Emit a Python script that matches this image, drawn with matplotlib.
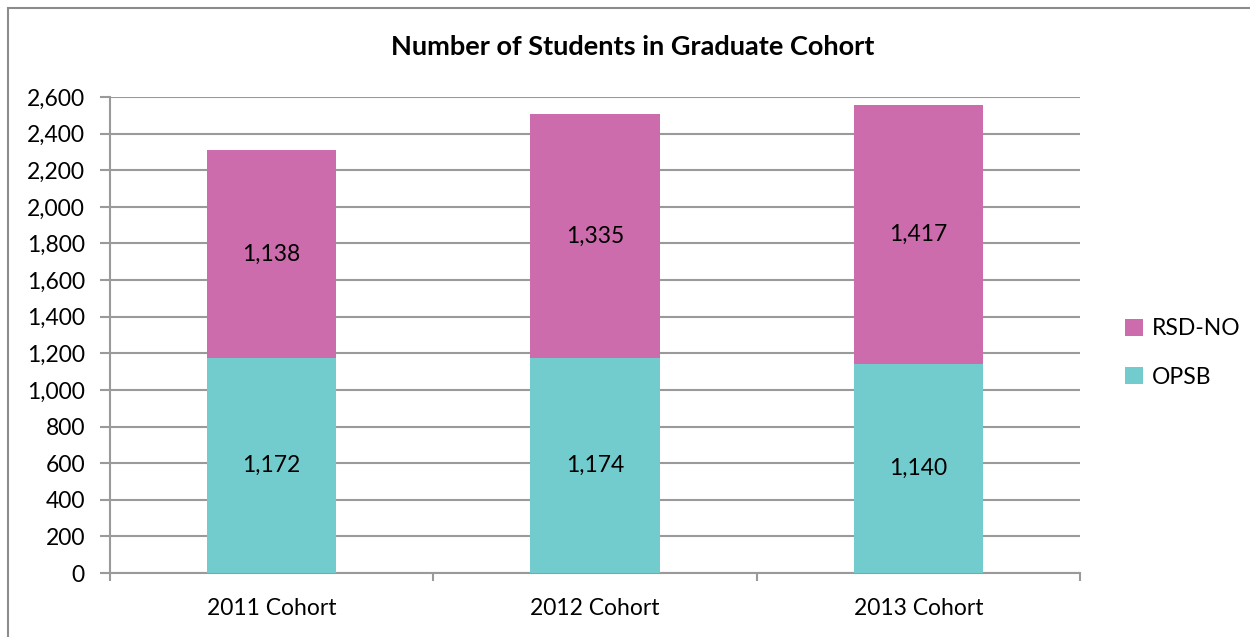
import matplotlib
matplotlib.use("Agg")
import matplotlib.pyplot as plt
from matplotlib.patches import Rectangle
import numpy as np

categories = ["2011 Cohort", "2012 Cohort", "2013 Cohort"]
opsb = [1172, 1174, 1140]
rsd_no = [1138, 1335, 1417]
yticks = list(range(0, 2601, 200))

teal = "#72CCCE"
pink = "#CC6CAC"
grid_c = "#9A9A9A"

plt.rcParams['font.family'] = ['Lato', 'DejaVu Sans']

fig = plt.figure(figsize=(12.5, 6.37), dpi=100)
W, H = 1250, 637
ax = fig.add_axes([110 / W, 1 - 573 / H, (1080 - 110) / W, (573 - 97) / H])

x = np.arange(len(categories))
b1 = ax.bar(x, opsb, width=0.4, color=teal, label="OPSB", zorder=3)
b2 = ax.bar(x, rsd_no, width=0.4, bottom=opsb, color=pink, label="RSD-NO", zorder=3)

fs = 16.5
for i in range(len(categories)):
    ax.text(x[i], opsb[i] / 2, f"{opsb[i]:,}", ha="center", va="center", fontsize=fs, zorder=4)
    ax.text(x[i], opsb[i] + rsd_no[i] / 2, f"{rsd_no[i]:,}", ha="center", va="center", fontsize=fs, zorder=4)

ax.set_xlim(-0.5, len(categories) - 0.5)
ax.set_ylim(0, 2600)
ax.set_yticks(yticks)
ax.set_yticklabels([f"{v:,}" for v in yticks], fontsize=fs)
ax.yaxis.grid(True, color=grid_c, linewidth=1.5, zorder=0)
ax.set_axisbelow(True)

ax.set_xticks(x)
ax.set_xticklabels(categories, fontsize=fs)
ax.tick_params(axis="x", length=0, pad=18)
ax.set_xticks(np.arange(-0.5, len(categories)), minor=True)
ax.tick_params(axis="x", which="minor", length=6, width=1.5, color=grid_c)
ax.tick_params(axis="y", length=7, width=1.5, color=grid_c, pad=11)

for s in ["top", "right"]:
    ax.spines[s].set_visible(False)
for s in ["left", "bottom"]:
    ax.spines[s].set_color(grid_c)
    ax.spines[s].set_linewidth(1.5)

fig.text(633 / W, 1 - 47 / H, "Number of Students in Graduate Cohort", ha="center", va="center",
         fontsize=19.5, fontweight="bold")

handles = [b2, b1]
leg = fig.legend(handles, ["RSD-NO", "OPSB"], loc="center left", bbox_to_anchor=(1114 / W, 1 - 353 / H),
                 frameon=False, fontsize=fs, handlelength=0.75, handleheight=0.75, handletextpad=0.4,
                 labelspacing=1.2, borderpad=0)

fig.patches.append(Rectangle((8 / W, -0.01), 1.02, 1 - 8 / H + 0.01, transform=fig.transFigure,
                             fill=False, edgecolor="#8C8C8C", linewidth=1.5))

fig.savefig("out.png", dpi=100)
